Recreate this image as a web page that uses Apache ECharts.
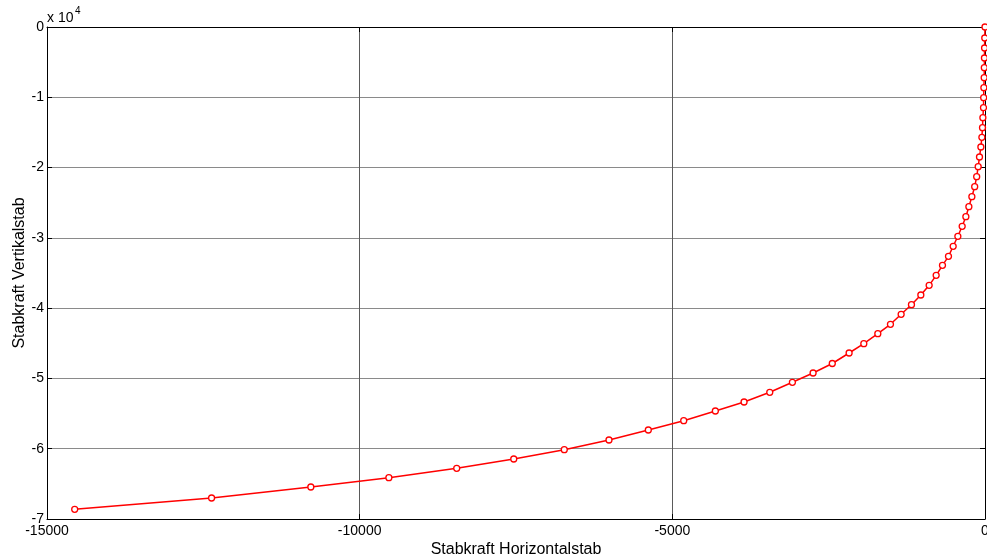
<!DOCTYPE html>
<html>
<head>
<meta charset="utf-8">
<script src="https://cdn.jsdelivr.net/npm/echarts@6/dist/echarts.min.js"></script>
<style>
  html, body { margin: 0; padding: 0; background: #fff; }
  #chart { width: 987px; height: 559px; }
</style>
</head>
<body>
<div id="chart"></div>
<script>
// Horizontal member force (x) against vertical member force (y)
const stabkraftHorizontal = [
  -14557, -12368, -10781, -9533, -8448, -7536, -6728, -6013, -5384, -4818,
  -4312, -3853, -3442, -3080, -2749, -2442, -2173, -1938, -1714, -1512,
  -1341, -1176, -1026, -893, -781, -680, -584, -509, -434, -365,
  -306, -258, -210, -165, -133, -109, -88, -66, -50, -40,
  -34, -24, -21, -18, -13, -11, -9, -7, -4, 0
];
const stabkraftVertikal = [
  -68620, -67014, -65449, -64126, -62788, -61465, -60142, -58762, -57339, -56016,
  -54636, -53355, -51975, -50552, -49229, -47877, -46383, -45060, -43637, -42300,
  -40877, -39511, -38131, -36751, -35328, -33905, -32625, -31202, -29779, -28356,
  -26991, -25568, -24145, -22722, -21299, -19877, -18496, -17074, -15693, -14328,
  -12905, -11482, -10059, -8636, -7214, -5791, -4411, -2988, -1565, 0
];
const xTicks = [-15000, -10000, -5000, 0];
const yTicks = [-7, -6, -5, -4, -3, -2, -1, 0];   // in units of 10^4
const yScale = 10000;

const points = stabkraftHorizontal.map((x, i) => [x, stabkraftVertikal[i]]);

const font = 'Liberation Sans, Arial, sans-serif';
const chart = echarts.init(document.getElementById('chart'), null, { renderer: 'canvas' });

const boxAxis = {
  axisLine: { show: true, onZero: false, lineStyle: { color: '#000', width: 1 } },
  axisTick: { show: true, inside: true, length: 5, lineStyle: { color: '#000' } },
  axisLabel: { show: false },
  splitLine: { show: false }
};

chart.setOption({
  animation: false,
  backgroundColor: '#fff',
  grid: { left: 47, right: 2, top: 27, bottom: 40, containLabel: false, outerBoundsMode: 'none' },
  xAxis: [
    {
      type: 'value',
      min: xTicks[0], max: xTicks[xTicks.length - 1], interval: 5000,
      name: 'Stabkraft Horizontalstab',
      nameLocation: 'middle', nameGap: 23, nameMoveOverlap: false,
      nameTextStyle: { color: '#000', fontSize: 16, fontFamily: font },
      axisLine: { show: true, onZero: false, lineStyle: { color: '#000', width: 1 } },
      axisTick: { show: true, inside: true, length: 5, lineStyle: { color: '#000' } },
      axisLabel: { color: '#000', fontSize: 14, fontFamily: font, margin: 5,
                   showMinLabel: true, showMaxLabel: true, hideOverlap: false,
                   formatter: v => String(v) },
      splitLine: { show: true, lineStyle: { color: '#5a5a5a', width: 1 } }
    },
    Object.assign({ type: 'value', position: 'top', min: -15000, max: 0, interval: 5000 }, boxAxis)
  ],
  yAxis: [
    {
      type: 'value',
      min: yTicks[0] * yScale, max: yTicks[yTicks.length - 1] * yScale, interval: yScale,
      name: 'Stabkraft Vertikalstab',
      nameLocation: 'middle', nameGap: 19, nameRotate: 90, nameMoveOverlap: false,
      nameTextStyle: { color: '#000', fontSize: 16, fontFamily: font },
      axisLine: { show: true, onZero: false, lineStyle: { color: '#000', width: 1 } },
      axisTick: { show: true, inside: true, length: 5, lineStyle: { color: '#000' } },
      axisLabel: { color: '#000', fontSize: 14, fontFamily: font, margin: 3,
                   showMinLabel: true, showMaxLabel: true, hideOverlap: false,
                   formatter: v => String(Math.round(v / yScale)) },
      splitLine: { show: true, lineStyle: { color: '#8a8a8a', width: 1 } }
    },
    Object.assign({ type: 'value', position: 'right', min: -70000, max: 0, interval: 10000 }, boxAxis)
  ],
  graphic: [
    {
      type: 'text', left: 47, top: 11,
      style: { text: 'x 10', fontSize: 14, fontFamily: font, fill: '#000' }
    },
    {
      type: 'text', left: 75, top: 6,
      style: { text: '4', fontSize: 10, fontFamily: font, fill: '#000' }
    }
  ],
  series: [
    {
      type: 'line',
      data: points,
      xAxisIndex: 0, yAxisIndex: 0,
      lineStyle: { color: '#ff0000', width: 1.5 },
      symbol: 'circle', symbolSize: 6,
      itemStyle: { color: '#ffffff', borderColor: '#ff0000', borderWidth: 1.3 },
      showSymbol: true,
      clip: false
    }
  ]
});
</script>
</body>
</html>
